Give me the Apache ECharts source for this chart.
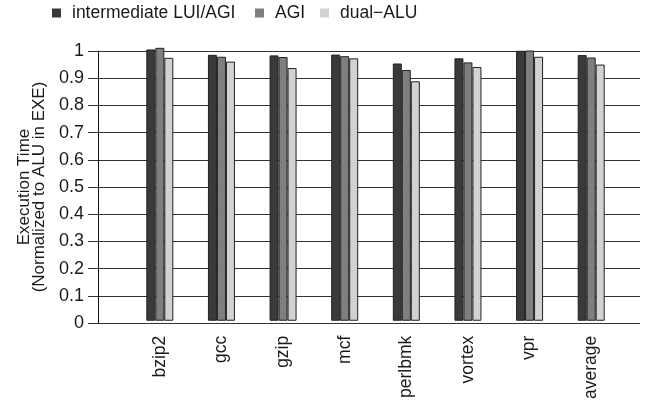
<!DOCTYPE html>
<html>
<head>
<meta charset="utf-8">
<script src="https://cdn.jsdelivr.net/npm/echarts@6/dist/echarts.min.js"></script>
<style>
  html, body { margin: 0; padding: 0; background: #fff; }
  #chart { width: 649px; height: 402px; }
</style>
</head>
<body>
<div id="chart"></div>
<script>
// Benchmarks and normalized execution times
const categories = ['bzip2', 'gcc', 'gzip', 'mcf', 'perlbmk', 'vortex', 'vpr', 'average'];
const seriesNames = ['intermediate LUI/AGI', 'AGI', 'dual\u2212ALU'];
const luiAgi  = [1.005, 0.985, 0.983, 0.986, 0.953, 0.972, 1.000, 0.984];
const agi     = [1.011, 0.978, 0.977, 0.980, 0.929, 0.957, 1.001, 0.975];
const dualAlu = [0.974, 0.960, 0.936, 0.972, 0.887, 0.940, 0.978, 0.949];
const yTicks  = [0, 0.1, 0.2, 0.3, 0.4, 0.5, 0.6, 0.7, 0.8, 0.9, 1];

const colors = ['#3a3a3a', '#7f7f7f', '#d2d2d2'];
const font = '"Liberation Sans", Arial, Helvetica, sans-serif';
const seriesData = [luiAgi, agi, dualAlu];
const legendLeft = [47, 250, 315];

const chart = echarts.init(document.getElementById('chart'), null, { renderer: 'canvas' });

// the value axis is drawn on grid 0; bars live on grid 1 which extends above 1.0
// with the same pixels-per-unit so values slightly above 1 are not clipped
const plotTop = 51, plotBottom = 79;
const pxPerUnit = (402 - plotTop - plotBottom);
const barMax = 1.1;

chart.setOption({
  animation: false,
  backgroundColor: '#ffffff',
  textStyle: { fontFamily: font, color: '#1a1a1a' },
  legend: seriesNames.map((name, i) => ({
    left: legendLeft[i], top: -1,
    icon: 'rect', itemWidth: 9, itemHeight: 9,
    selectedMode: false,
    itemStyle: { borderWidth: 0 },
    textStyle: { fontFamily: font, fontSize: 17.5, color: '#1a1a1a', padding: [0, 0, 0, 6] },
    data: [name]
  })),
  grid: [
    { left: 98, right: 9, top: plotTop, bottom: plotBottom },
    { left: 129, right: 27, top: plotTop - (barMax - 1) * pxPerUnit, bottom: plotBottom }
  ],
  xAxis: [
    { gridIndex: 0, type: 'category', data: [], show: false },
    {
      gridIndex: 1, type: 'category', data: categories,
      axisLine: { show: false }, axisTick: { show: false },
      axisLabel: { rotate: 90, margin: 15, fontSize: 17.5, color: '#1a1a1a', fontFamily: font, interval: 0 }
    }
  ],
  yAxis: [
    {
      gridIndex: 0, type: 'value', min: 0, max: 1, interval: 0.1,
      name: 'Execution Time\n(Normalized to ALU in EXE)',
      nameLocation: 'middle', nameGap: 48, nameRotate: 90,
      nameTextStyle: { fontSize: 17, lineHeight: 15.5, color: '#1a1a1a', fontFamily: font },
      axisLine: { show: true, lineStyle: { color: '#111', width: 1 } },
      axisTick: { show: true, length: 10, lineStyle: { color: '#333' } },
      splitLine: { show: true, lineStyle: { color: '#333', width: 1 } },
      axisLabel: {
        margin: 14, fontSize: 18, color: '#1a1a1a', fontFamily: font,
        formatter: v => {
          const t = yTicks.find(x => Math.abs(x - v) < 1e-6);
          return t === undefined ? '' : String(t);
        }
      }
    },
    { gridIndex: 1, type: 'value', min: 0, max: barMax, show: false }
  ],
  series: seriesNames.map((name, i) => ({
    name, type: 'bar', xAxisIndex: 1, yAxisIndex: 1,
    data: seriesData[i],
    barWidth: 9, barGap: '0%',
    itemStyle: { color: colors[i], borderColor: '#222', borderWidth: 1 }
  })),
  color: colors
});
</script>
</body>
</html>
